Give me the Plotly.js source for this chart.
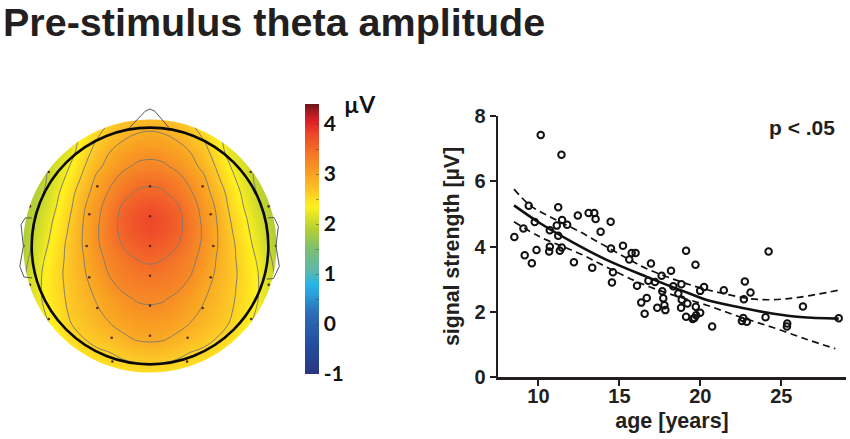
<!DOCTYPE html>
<html>
<head>
<meta charset="utf-8">
<script src="https://cdn.plot.ly/plotly-3.0.1.min.js"></script>
<style>html,body{margin:0;padding:0;background:#fff}#chart{width:850px;height:439px}</style>
</head>
<body>
<div id="chart"></div>
<script>
// ---- Topographic map data (head units: black ring radius = 1). Read as left/right symmetric.
const gridXHalf = [0,0.1125,0.225,0.3375,0.45,0.5625,0.675,0.9,1.125];
const gridY = [1.125,0.9,0.7875,0.675,0.5625,0.45,0.3375,0.225,0.1125,0,-0.1125,-0.225,-0.3375,-0.45,-0.5625,-0.675,-0.7875,-0.9,-1.125];
const ampHalf = [
 [2.70,2.68,2.62,2.52,2.40,2.26,2.10,1.80,1.45],
 [2.99,2.96,2.89,2.75,2.60,2.38,2.18,1.85,1.50],
 [3.13,3.10,3.02,2.91,2.72,2.47,2.20,1.92,1.60],
 [3.27,3.24,3.14,3.00,2.83,2.57,2.31,1.95,1.60],
 [3.43,3.40,3.30,3.13,2.96,2.67,2.40,1.95,1.65],
 [3.56,3.53,3.41,3.24,3.03,2.78,2.50,2.00,1.70],
 [3.70,3.65,3.54,3.33,3.11,2.86,2.55,2.06,1.68],
 [3.78,3.72,3.59,3.38,3.15,2.90,2.61,2.13,1.70],
 [3.74,3.69,3.57,3.39,3.17,2.92,2.65,2.18,1.71],
 [3.64,3.60,3.51,3.34,3.155,2.92,2.69,2.23,1.72],
 [3.54,3.50,3.39,3.28,3.11,2.89,2.69,2.29,1.78],
 [3.43,3.40,3.33,3.23,3.05,2.87,2.70,2.33,1.83],
 [3.33,3.31,3.26,3.14,2.98,2.83,2.68,2.34,1.85],
 [3.24,3.22,3.14,3.03,2.92,2.79,2.66,2.33,1.85],
 [3.14,3.12,3.06,2.97,2.86,2.74,2.63,2.28,1.82],
 [3.04,3.02,2.97,2.88,2.79,2.68,2.58,2.22,1.78],
 [2.94,2.92,2.84,2.75,2.68,2.59,2.49,2.19,1.82],
 [2.75,2.73,2.68,2.60,2.55,2.48,2.38,2.15,1.85],
 [2.40,2.39,2.37,2.36,2.33,2.28,2.20,2.00,1.80]
];
const electrodeX = [0,0,0,0,0,0,-.445,.445,-.513,.513,-.535,.535,-.513,.513,-.445,.445,-.324,.318,-.856,.851,-1.014,1.003,-1.07,1.065,-1.014,1.003,-.855,.855,-.318,.313];
const electrodeY = [.504,.251,0,-.251,-.504,-.758,.504,.504,.268,.268,0,0,-.265,-.265,-.524,-.524,-.775,-.775,.625,.625,.335,.335,0,0,-.327,-.327,-.617,-.617,-.976,-.976];
const noseLine = [[-.175,.997],[-.042,1.138],[0,1.158],[.042,1.138],[.16,1.0]];
const earLeft = [[-.997,.237],[-1.055,.237],[-1.09,.18],[-1.07,0],[-1.1,-.172],[-1.065,-.262],[-.997,-.27]];
const earRight = [[.997,.237],[1.048,.242],[1.085,.166],[1.065,0],[1.093,-.172],[1.043,-.276],[.986,-.279]];
const cbTickVals = [-1,-0.5,0,0.5,1,1.5,2,2.5,3,3.5,4];
const cbTickText = ['-1','','0','','1','','2','','3','','4'];
const scaleStops = [
 [-1.0,'#2a3580'],[-0.4,'#234f9f'],[0.2,'#2d6bb5'],[0.6,'#2a9fdc'],[0.8,'#26b5e8'],[1.05,'#5cb6ae'],[1.5,'#7cbf72'],
 [1.9,'#b5d033'],[2.35,'#fff01e'],[2.7,'#fcc226'],[3.0,'#f9a222'],[3.4,'#f57628'],[3.8,'#ee462a'],[4.05,'#df1f28'],[4.25,'#a51c22'],[4.4,'#6b1518']
];
// ---- Scatter data
const age = [10.14,11.42,9.40,11.22,9.77,9.07,8.51,10.70,11.13,11.46,11.77,11.22,12.43,13.10,13.45,13.53,14.46,13.84,14.48,15.22,15.76,16.00,15.61,10.70,10.66,9.88,9.15,9.59,11.32,11.44,12.19,13.32,14.60,14.54,16.09,16.79,16.69,16.35,16.56,16.95,19.12,24.22,19.70,18.19,17.61,17.20,18.33,18.83,20.23,19.99,17.65,18.64,17.71,18.85,19.20,19.72,17.78,17.34,17.84,18.81,19.12,19.99,19.74,19.63,19.53,20.73,21.45,22.75,23.10,22.69,22.65,22.57,22.87,24.03,25.37,25.35,26.34,28.55];
const amp = [7.42,6.81,5.25,5.20,4.75,4.55,4.29,4.50,4.64,4.81,4.67,4.33,4.95,5.03,5.03,4.84,4.76,4.45,3.94,4.02,3.80,3.80,3.60,3.99,3.85,3.89,3.73,3.49,3.87,3.97,3.52,3.35,3.21,2.90,2.80,2.95,2.42,2.28,1.94,3.48,3.87,3.85,3.44,3.26,3.10,2.91,2.78,2.84,2.76,2.64,2.63,2.56,2.41,2.37,2.25,2.15,2.20,2.12,2.05,2.12,1.85,1.97,1.89,1.81,1.78,1.55,2.66,2.93,2.59,2.38,1.81,1.72,1.69,1.83,1.64,1.55,2.16,1.80];
const fitX = [8.49,10.08,12.15,14.21,16.69,19.37,20.40,22.46,24.53,26.18,28.55];
const fitY = [5.26,4.72,4.12,3.59,3.07,2.55,2.36,2.13,1.94,1.84,1.79];
const upperX = [8.49,9.46,10.91,12.56,14.21,15.86,16.69,18.33,20.00,21.43,23.08,24.50,26.18,28.55];
const upperY = [5.76,5.27,4.86,4.45,3.99,3.53,3.32,3.00,2.73,2.56,2.40,2.37,2.45,2.66];
const lowerX = [8.49,10.08,12.56,14.21,15.86,16.89,18.33,20.40,22.46,24.53,26.59,28.34];
const lowerY = [4.76,4.30,3.78,3.37,2.97,2.76,2.51,2.20,1.84,1.51,1.15,0.87];
const xTicks = [10,15,20,25];
const yTicks = [0,2,4,6,8];

const gridX = gridXHalf.slice(1).reverse().map(v => -v).concat(gridXHalf);
const ampGrid = ampHalf.map(r => r.slice(1).reverse().concat(r));
const zLo = -1, zHi = 4.4;
const colorscale = scaleStops.map(s => [(s[0]-zLo)/(zHi-zLo), s[1]]);
const W = 850, H = 439;
const sans = '"Liberation Sans", Arial, sans-serif';
const ink = '#231f20';

const linePath = pts => 'M' + pts.map(p => p[0]+','+p[1]).join(' L');
const discR = 1.07, k = 0.5523*discR, L = 1.25;
const maskPath = `M${-L},${-L} L${L},${-L} L${L},${L} L${-L},${L} Z ` +
  `M${discR},0 C${discR},${k} ${k},${discR} 0,${discR} C${-k},${discR} ${-discR},${k} ${-discR},0 ` +
  `C${-discR},${-k} ${-k},${-discR} 0,${-discR} C${k},${-discR} ${discR},${-k} ${discR},0 Z`;

const traces = [
 {type:'heatmap', x:gridX, y:gridY, z:ampGrid, zsmooth:'best', zmin:zLo, zmax:zHi, colorscale:colorscale, xaxis:'x', yaxis:'y', hoverinfo:'skip',
  colorbar:{x:305/W, xanchor:'left', y:1-374/H, yanchor:'bottom', lenmode:'pixels', len:270, thicknessmode:'pixels', thickness:13.5,
            xpad:0, ypad:0, outlinewidth:0, tickmode:'array', tickvals:cbTickVals, ticktext:cbTickText,
            ticks:'inside', ticklen:3, tickwidth:1, tickcolor:'rgba(50,50,50,0.45)',
            tickfont:{family:'Lato, sans-serif', size:21, weight:700, color:'#111'}}},
 {type:'contour', x:gridX, y:gridY, z:ampGrid, xaxis:'x', yaxis:'y', showscale:false, hoverinfo:'skip',
  contours:{coloring:'none', start:2.0, end:3.5, size:0.3, showlabels:false}, line:{color:'#857c68', width:1, smoothing:1.3}},
 {type:'scatter', mode:'markers', x:electrodeX, y:electrodeY, xaxis:'x', yaxis:'y', hoverinfo:'skip', showlegend:false,
  marker:{size:2.6, color:'#5a2a20'}},
 {type:'scatter', mode:'lines', x:upperX, y:upperY, xaxis:'x2', yaxis:'y2', showlegend:false,
  line:{color:'#111', width:1.7, dash:'7px,4.5px', shape:'spline'}},
 {type:'scatter', mode:'lines', x:lowerX, y:lowerY, xaxis:'x2', yaxis:'y2', showlegend:false,
  line:{color:'#111', width:1.7, dash:'7px,4.5px', shape:'spline'}},
 {type:'scatter', mode:'lines', x:fitX, y:fitY, xaxis:'x2', yaxis:'y2', showlegend:false,
  line:{color:'#111', width:2.6, shape:'spline'}},
 {type:'scatter', mode:'markers', x:age, y:amp, xaxis:'x2', yaxis:'y2', showlegend:false,
  marker:{symbol:'circle-open', size:6.5, color:'#111', line:{width:2, color:'#111'}}}
];

const axisFont = {family:sans, size:20, weight:700, color:ink};
const layout = {
 width:W, height:H, margin:{l:0,r:0,t:0,b:0}, paper_bgcolor:'#fff', plot_bgcolor:'rgba(0,0,0,0)', showlegend:false,
 title:{text:'Pre-stimulus theta amplitude', x:3/W, xanchor:'left', xref:'paper', y:1-8/H, yanchor:'top', yref:'container',
        font:{family:sans, size:39.5, weight:700, color:ink}},
 xaxis:{domain:[8/W,292/W], range:[-1.2,1.2], visible:false, fixedrange:true},
 yaxis:{domain:[1-388/H,1-104/H], range:[-1.2,1.2], visible:false, fixedrange:true},
 xaxis2:{domain:[498/W,846/W], range:[7.5,29], anchor:'y2', tickmode:'array', tickvals:xTicks, ticks:'outside', ticklen:6, tickwidth:2,
         ticklabelstandoff:-7,
         tickcolor:ink, showline:true, linewidth:2.5, linecolor:ink, showgrid:false, zeroline:false, tickfont:axisFont,
         title:{text:'age [years]', font:{family:sans, size:21.5, weight:700, color:ink}, standoff:8}},
 yaxis2:{domain:[1-377/H,1-116/H], range:[0,8], anchor:'x2', tickmode:'array', tickvals:yTicks, ticks:'outside', ticklen:6, tickwidth:2,
         tickcolor:ink, showline:true, linewidth:2.5, linecolor:ink, showgrid:false, zeroline:false, tickfont:axisFont,
         title:{text:'signal strength [µV]', font:{family:sans, size:21.3, weight:700, color:ink}, standoff:9}},
 shapes:[
  {type:'path', path:maskPath, xref:'x', yref:'y', fillcolor:'#fff', fillrule:'evenodd', line:{width:0}, layer:'above'},
  {type:'circle', xref:'x', yref:'y', x0:-1, x1:1, y0:-1, y1:1, line:{color:'#0a0a0a', width:2.6}, fillcolor:'rgba(0,0,0,0)'},
  {type:'path', path:linePath(noseLine), xref:'x', yref:'y', line:{color:'#555', width:1}},
  {type:'path', path:linePath(earLeft), xref:'x', yref:'y', line:{color:'#555', width:1}},
  {type:'path', path:linePath(earRight), xref:'x', yref:'y', line:{color:'#555', width:1}}
 ],
 annotations:[
  {text:'µV', xref:'paper', yref:'paper', x:342/W, y:1-104/H, xanchor:'left', yanchor:'middle', showarrow:false,
   font:{family:'Lato, sans-serif', size:23, weight:700, color:'#111'}},
  {text:'p < .05', xref:'paper', yref:'paper', x:767/W, y:1-128/H, xanchor:'left', yanchor:'middle', showarrow:false,
   font:{family:sans, size:21, weight:700, color:ink}}
 ]
};
Plotly.newPlot('chart', traces, layout, {displayModeBar:false, staticPlot:true});
</script>
</body>
</html>
